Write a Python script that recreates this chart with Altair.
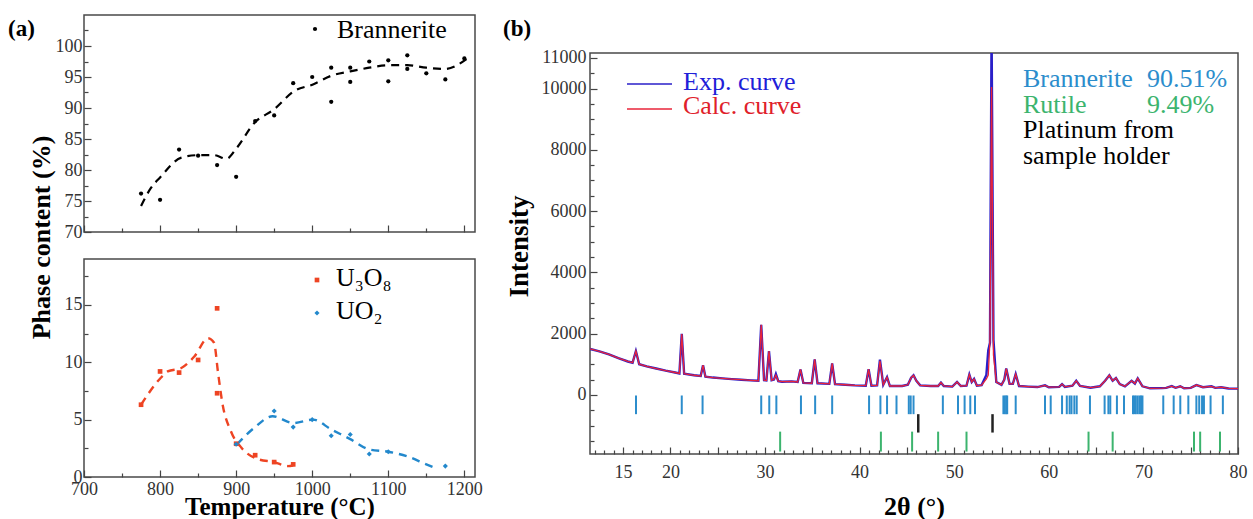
import altair as alt
import pandas as pd

SERIF = "Liberation Serif"
FRAME = "#4a4a4a"
RED = "#ee4423"
BLUE = "#2288cc"
EXP_BLUE = "#2a1fc8"
CALC_RED = "#e8243a"
BRAN_BLUE = "#2c8dcc"
RUT_GREEN = "#3cb46e"

# ---------------- (a) phase content versus temperature ----------------
bran_temp = [775, 800, 825, 850, 875, 900, 925, 950, 975, 1000, 1025, 1025,
             1050, 1050, 1075, 1100, 1100, 1125, 1125, 1150, 1175, 1200]
bran_pct = [76.2, 75.2, 83.3, 82.3, 80.8, 78.9, 87.9, 88.8, 94.0, 95.0, 96.5, 91.0,
            96.5, 94.2, 97.5, 97.7, 94.3, 98.5, 96.3, 95.6, 94.6, 98.0]
bran_fit_temp = [775, 788, 800, 828, 851, 871, 887, 901, 924, 950, 976, 1001,
                 1025, 1050, 1075, 1100, 1125, 1150, 1175, 1203]
bran_fit_pct = [74.2, 77.1, 78.8, 82.0, 82.4, 82.4, 81.8, 83.6, 87.6, 89.8, 92.7, 93.8,
                95.2, 95.9, 96.5, 96.9, 96.9, 96.5, 96.3, 97.9]

u3o8_temp = [775, 800, 825, 850, 875, 875, 900, 925, 950, 975]
u3o8_pct = [6.3, 9.2, 9.1, 10.2, 14.7, 7.3, 2.9, 1.9, 1.3, 1.1]
u3o8_fit_temp = [775, 801, 810, 828, 845, 863, 871, 876, 882, 893, 907, 929, 950, 968, 975]
u3o8_fit_pct = [6.3, 8.65, 9.2, 9.5, 10.5, 12.1, 11.7, 9.2, 6.4, 4.0, 2.55, 1.55, 1.3, 0.95, 1.0]

uo2_temp = [900, 950, 975, 1000, 1025, 1050, 1075, 1100, 1175]
uo2_pct = [2.85, 5.75, 4.35, 5.0, 3.6, 3.7, 2.0, 2.2, 0.95]
uo2_fit_temp = [901, 924, 948, 975, 1001, 1025, 1050, 1075, 1100, 1125, 1150, 1163]
uo2_fit_pct = [2.85, 4.3, 5.3, 4.7, 5.0, 4.15, 3.3, 2.4, 2.2, 1.8, 1.1, 0.75]

# ---------------- (b) XRD pattern ----------------
two_theta = [
    11.5, 12.5, 13.5, 14.5, 15.5, 16.0, 16.35, 16.7, 17.5, 18.5,
    19.5, 20.5, 20.95, 21.2, 21.45, 22.5, 23.2, 23.45, 23.7, 24.5,
    25.5, 26.5, 27.5, 28.5, 29.3, 29.6, 29.9, 30.15, 30.42, 30.7,
    30.95, 31.15, 31.4, 31.8, 32.8, 33.45, 33.75, 34.05, 34.95, 35.25,
    35.55, 36.8, 37.1, 37.4, 38.5, 39.5, 40.65, 40.95, 41.25, 41.85,
    42.15, 42.5, 42.9, 43.2, 44.5, 45.1, 45.45, 45.7, 46.0, 46.4,
    47.5, 48.3, 48.6, 48.9, 49.8, 50.3, 50.7, 51.3, 51.6, 51.85,
    52.1, 52.4, 52.9, 53.4, 53.6, 53.78, 53.95, 54.15, 54.45, 55.0,
    55.3, 55.5, 55.85, 56.2, 56.5, 56.85, 57.8, 58.8, 59.6, 60.0,
    61.1, 61.4, 61.7, 62.5, 62.9, 63.3, 64.4, 65.4, 65.95, 66.4,
    66.75, 67.1, 67.5, 68.05, 68.75, 69.1, 69.4, 69.9, 70.7, 72.0,
    72.4, 73.0, 73.4, 73.9, 74.3, 75.0, 75.6, 76.3, 77.2, 77.6,
    78.2, 79.0, 80.0,
]
calc_counts = [
    1500, 1420, 1320, 1200, 1090, 1050, 1430, 1000, 930, 860,
    790, 730, 700, 1990, 690, 640, 615, 970, 595, 565,
    540, 515, 495, 475, 460, 2290, 480, 470, 1430, 480,
    500, 640, 450, 430, 440, 420, 830, 390, 380, 1160,
    380, 360, 1030, 350, 330, 310, 300, 840, 300, 310,
    1110, 330, 580, 290, 290, 330, 560, 640, 460, 310,
    290, 290, 400, 290, 270, 420, 290, 300, 660, 420,
    520, 300, 320, 520, 650, 1800, 10050, 1300, 420, 330,
    500, 860, 360, 360, 680, 290, 270, 255, 310, 250,
    260, 350, 260, 300, 460, 290, 235, 280, 460, 640,
    460, 550, 350, 280, 460, 370, 540, 280, 215, 220,
    230, 285, 230, 280, 215, 230, 320, 250, 280, 230,
    250, 210, 205,
]
exp_counts = [
    1500, 1420, 1320, 1200, 1090, 1050, 1430, 1000, 930, 860,
    790, 730, 700, 1990, 690, 640, 615, 970, 595, 565,
    540, 515, 495, 475, 460, 2290, 480, 470, 1430, 480,
    500, 680, 450, 430, 440, 420, 830, 390, 380, 1160,
    380, 360, 1030, 350, 330, 310, 300, 840, 300, 310,
    1150, 330, 580, 290, 290, 330, 560, 640, 460, 310,
    290, 290, 400, 290, 270, 420, 290, 300, 660, 420,
    520, 300, 320, 650, 1450, 1700, 12000, 1800, 420, 330,
    500, 860, 360, 360, 680, 290, 270, 255, 310, 250,
    260, 350, 260, 300, 460, 290, 235, 280, 460, 640,
    460, 550, 350, 280, 460, 370, 540, 280, 215, 220,
    230, 285, 230, 280, 215, 230, 320, 250, 280, 230,
    250, 210, 205,
]

brannerite_refl = [16.36, 21.2, 23.4, 29.6, 30.45, 31.2, 33.8, 35.3, 37.1, 41.0,
                   42.2, 42.9, 43.9, 45.2, 45.4, 45.7, 48.8, 50.4, 51.1, 51.7,
                   52.2, 55.2, 55.35, 55.5, 55.6, 56.5, 59.6, 60.2, 61.4, 61.9,
                   62.2, 62.4, 62.7, 62.95, 64.35, 65.9, 66.3, 66.5, 67.2, 67.95,
                   68.9, 69.05, 69.2, 69.4, 69.6, 69.75, 69.9, 72.1, 73.2, 73.9,
                   74.75, 75.6, 75.9, 76.2, 76.4, 77.1, 78.4]
platinum_refl = [46.2, 54.05]
rutile_refl = [31.6, 42.25, 45.55, 48.3, 51.3, 64.2, 66.75, 75.35, 76.0, 78.1]

# vertical extent (intensity units) of each row of reflection markers
brannerite_row = [-20, -630]
platinum_row = [-630, -1230]
rutile_row = [-1200, -1850]

MAJOR_TICK = 7
MINOR_TICK = 4


def inward_axis(values, major_test, label_test=None, gap=2, **kw):
    # negative tick sizes draw the ticks inside the frame; the label padding
    # is measured from the (inward) tick end, so it is widened by the tick length
    opts = dict(values=values, domain=False, grid=False, labelOverlap=False,
                labelFlush=False, labelPadding=gap + MAJOR_TICK,
                tickSize={"condition": {"test": major_test, "value": -MAJOR_TICK},
                          "value": -MINOR_TICK})
    if label_test is None:
        opts["labels"] = False
    else:
        opts["labelExpr"] = f"({label_test}) ? datum.label : ''"
    opts.update(kw)
    return alt.Axis(**opts)


def one_row():
    return pd.DataFrame({"k": [0]})


def label(text, x, y, size=26, color="black", weight="normal", baseline="alphabetic"):
    return alt.Chart(one_row()).mark_text(
        text=text, font=SERIF, fontSize=size, color=color, fontWeight=weight,
        align="left", baseline=baseline,
    ).encode(x=alt.value(x), y=alt.value(y))


# ---------------- (a) top: brannerite ----------------
temp_ticks = [700 + 50 * i for i in range(11)]
T_top = alt.X("T:Q", scale=alt.Scale(domain=[700, 1214], nice=False, zero=False),
              axis=inward_axis(temp_ticks, "datum.value % 100 == 0", title=""))
P_top = alt.Y("p:Q", scale=alt.Scale(domain=[70, 105], nice=False, zero=False),
              axis=inward_axis([70 + 2.5 * i for i in range(14)], "datum.value % 5 == 0",
                               label_test="datum.value % 5 == 0", format="d", gap=2,
                               title="Phase content (%)", titleX=-35, titleY=222,
                               titleAngle=270, titleAlign="center",
                               titleBaseline="alphabetic"))

bran_pts = alt.Chart(pd.DataFrame({"T": bran_temp, "p": bran_pct})).mark_point(
    shape="circle", filled=True, size=18, color="black", opacity=1
).encode(x=T_top, y=P_top)
bran_fit = alt.Chart(pd.DataFrame({"T": bran_fit_temp, "p": bran_fit_pct})).mark_line(
    color="black", strokeWidth=2.2, strokeDash=[8, 6], interpolate="monotone"
).encode(x=T_top, y=P_top)
bran_key = alt.Chart(one_row()).mark_point(
    shape="circle", filled=True, size=18, color="black", opacity=1
).encode(x=alt.value(231), y=alt.value(14))

top = alt.layer(
    bran_fit, bran_pts, bran_key,
    label("Brannerite", 253, 23),
    label("(a)", -76, 3, size=23, weight="bold", baseline="top"),
).properties(width=391, height=217)

# ---------------- (a) bottom: U3O8 and UO2 ----------------
T_bot = alt.X("T:Q", scale=alt.Scale(domain=[700, 1214], nice=False, zero=False),
              axis=inward_axis(temp_ticks, "datum.value % 100 == 0",
                               label_test="datum.value % 100 == 0", format="d", gap=3,
                               title="Temperature (°C)", titleY=37, titleFontSize=25,
                               titleBaseline="alphabetic"))
P_bot = alt.Y("p:Q", scale=alt.Scale(domain=[0, 19], nice=False, zero=False),
              axis=inward_axis([2.5 * i for i in range(8)], "datum.value % 5 == 0",
                               label_test="datum.value % 5 == 0", format="d", gap=2,
                               title=""))

u3o8_fit = alt.Chart(pd.DataFrame({"T": u3o8_fit_temp, "p": u3o8_fit_pct})).mark_line(
    color=RED, strokeWidth=2.4, strokeDash=[8, 6], interpolate="monotone"
).encode(x=T_bot, y=P_bot)
u3o8_pts = alt.Chart(pd.DataFrame({"T": u3o8_temp, "p": u3o8_pct})).mark_point(
    shape="square", filled=True, size=22, color=RED, opacity=1
).encode(x=T_bot, y=P_bot)
uo2_fit = alt.Chart(pd.DataFrame({"T": uo2_fit_temp, "p": uo2_fit_pct})).mark_line(
    color=BLUE, strokeWidth=2.4, strokeDash=[8, 6], interpolate="monotone"
).encode(x=T_bot, y=P_bot)
uo2_pts = alt.Chart(pd.DataFrame({"T": uo2_temp, "p": uo2_pct})).mark_point(
    shape="diamond", filled=True, size=26, color=BLUE, opacity=1
).encode(x=T_bot, y=P_bot)
u3o8_key = alt.Chart(one_row()).mark_point(
    shape="square", filled=True, size=22, color=RED, opacity=1
).encode(x=alt.value(233), y=alt.value(21))
uo2_key = alt.Chart(one_row()).mark_point(
    shape="diamond", filled=True, size=26, color=BLUE, opacity=1
).encode(x=alt.value(233), y=alt.value(54))

bottom = alt.layer(
    u3o8_fit, uo2_fit, u3o8_pts, uo2_pts, u3o8_key, uo2_key,
    label("U₃O₈", 252, 27),
    label("UO₂", 252, 60),
).properties(width=391, height=218)

# ---------------- (b) XRD refinement ----------------
X_b = alt.X("tt:Q", scale=alt.Scale(domain=[11.5, 80], nice=False, zero=False),
            axis=inward_axis(list(range(12, 81)), "datum.value % 5 == 0",
                             label_test="datum.value == 15 || datum.value % 10 == 0",
                             format="d", gap=9,
                             title="2θ (°)", titleY=60, titleBaseline="alphabetic"))
Y_b = alt.Y("I:Q", scale=alt.Scale(domain=[-1930, 11160], nice=False, zero=False),
            axis=inward_axis([-1500 + 500 * i for i in range(26)],
                             "datum.value >= 0 && (datum.value % 2000 == 0 || datum.value == 11000)",
                             label_test="datum.value >= 0 && (datum.value % 2000 == 0 || datum.value == 11000)",
                             format="d", gap=4,
                             title="Intensity", titleX=-63, titleY=193, titleAngle=270,
                             titleAlign="center", titleBaseline="alphabetic",
                             titleFontSize=27))

exp_line = alt.Chart(pd.DataFrame({"tt": two_theta, "I": exp_counts})).mark_line(
    color=EXP_BLUE, strokeWidth=2.4, clip=True
).encode(x=X_b, y=Y_b)
calc_line = alt.Chart(pd.DataFrame({"tt": two_theta, "I": calc_counts})).mark_line(
    color=CALC_RED, strokeWidth=1.3, clip=True
).encode(x=X_b, y=Y_b)


def reflections(pos, row, color, width):
    df = pd.DataFrame({"tt": pos, "I": row[0], "I2": row[1]})
    return alt.Chart(df).mark_rule(color=color, strokeWidth=width).encode(
        x=X_b, y=Y_b, y2="I2:Q"
    )


key_exp = alt.Chart(one_row()).mark_rule(color=EXP_BLUE, strokeWidth=1.5).encode(
    x=alt.value(37), x2=alt.value(82), y=alt.value(31))
key_calc = alt.Chart(one_row()).mark_rule(color=CALC_RED, strokeWidth=1.5).encode(
    x=alt.value(37), x2=alt.value(82), y=alt.value(56))

right = alt.layer(
    exp_line, calc_line,
    reflections(brannerite_refl, brannerite_row, BRAN_BLUE, 2),
    reflections(platinum_refl, platinum_row, "#222222", 2.5),
    reflections(rutile_refl, rutile_row, RUT_GREEN, 2),
    key_exp, key_calc,
    label("Exp. curve", 93, 37, color="#2020d8"),
    label("Calc. curve", 93, 61, color="#e0202a"),
    label("Brannerite", 433, 34, color=BRAN_BLUE),
    label("90.51%", 557, 34, color=BRAN_BLUE),
    label("Rutile", 433, 60, color=RUT_GREEN),
    label("9.49%", 557, 60, color=RUT_GREEN),
    label("Platinum from", 433, 85),
    label("sample holder", 433, 111),
    label("(b)", -87, -35, size=23, weight="bold", baseline="top"),
).properties(width=648, height=401)

spacer = alt.Chart(one_row()).mark_point(opacity=0).encode(
    x=alt.value(0), y=alt.value(0)
).properties(width=648, height=38, view=alt.ViewBackground(strokeOpacity=0))

left_col = alt.vconcat(top, bottom, spacing=27, bounds="flush")
right_col = alt.vconcat(spacer, right, spacing=0, bounds="flush")

# nested columns report no width under flush bounds, so the spacing is the full
# distance between the two columns' origins
chart = alt.hconcat(left_col, right_col, spacing=506, bounds="flush").properties(
    padding={"left": 7, "top": 12, "right": 5, "bottom": 0}
).configure_view(
    stroke=FRAME, strokeWidth=1.5
).configure_axis(
    labelFont=SERIF, labelFontSize=18, labelColor="#333333",
    titleFont=SERIF, titleFontSize=26, titleFontWeight="bold", titleColor="black",
    tickColor="#444444", tickWidth=1.2,
)

chart.save("out.html", embed_options={"renderer": "svg", "actions": False})
